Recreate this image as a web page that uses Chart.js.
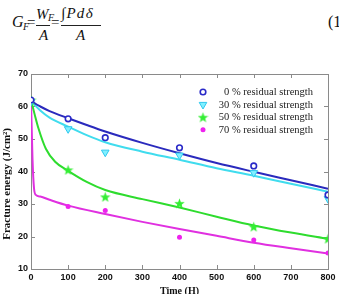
<!DOCTYPE html>
<html>
<head>
<meta charset="utf-8">
<script src="https://cdn.jsdelivr.net/npm/chart.js@4"></script>
<style>
  html, body { margin: 0; padding: 0; background: #fff; overflow: hidden; }
  body { width: 339px; height: 294px; position: relative; }
  .eq { position: absolute; font-family: 'Liberation Serif', 'DejaVu Serif', serif; font-style: italic; line-height: 1; color: #111; white-space: nowrap; }
  .bar { position: absolute; height: 1px; background: #222; }
  #wrap { position: absolute; left: 0; top: 55px; width: 339px; height: 245px; }
</style>
</head>
<body>
<!-- equation (1) above the figure -->
<span class="eq" style="left:12px; top:14px; font-size:16px;">G</span>
<span class="eq" style="left:23px; top:22px; font-size:10px;">F</span>
<span class="eq" style="left:27px; top:15px; font-size:15px; font-style:normal;">=</span>
<span class="eq" style="left:36px; top:7px; font-size:15px;">W</span>
<span class="eq" style="left:48px; top:13px; font-size:10px;">F</span>
<div class="bar" style="left:36px; top:25px; width:14px;"></div>
<span class="eq" style="left:39px; top:28px; font-size:15px;">A</span>
<span class="eq" style="left:51px; top:15px; font-size:15px; font-style:normal;">=</span>
<span class="eq" style="left:61px; top:6px; font-size:15px; letter-spacing:1.3px;">&#8747;Pd&#948;</span>
<div class="bar" style="left:61px; top:25px; width:40px;"></div>
<span class="eq" style="left:76px; top:28px; font-size:15px;">A</span>
<span class="eq" style="left:328px; top:14px; font-size:16px; font-style:normal;">(1</span>

<div id="wrap"><canvas id="chart"></canvas></div>

<script>
// measured points (Time in hours)
const times = [0, 100, 200, 400, 600, 800];
const res0 = [62, 56.2, 50.4, 47.3, 41.7, 32.8];
const res30 = [61.5, 53.1, 45.9, 45.0, 39.6, 31.6];
const res50 = [62, 40.5, 32.2, 30.2, 23.0, 19.3];
const res70 = [62, 29.2, 28.0, 19.8, 18.9, 14.9];

// fitted curves
const fitTimes0 = [0, 10, 25, 50, 100, 150, 200, 300, 400, 500, 600, 700, 800];
const fit0 = [62, 61.0, 60.0, 58.6, 56.4, 54.3, 52.3, 48.8, 45.6, 42.6, 39.9, 37.3, 34.7];
const fitTimes30 = [0, 10, 25, 50, 100, 150, 200, 300, 400, 500, 600, 700, 800];
const fit30 = [62, 60.5, 58.8, 56.6, 53.8, 51.2, 49.0, 46.1, 43.6, 41.0, 38.7, 36.2, 33.8];
const fitTimes50 = [0, 10, 20, 40, 65, 100, 150, 200, 300, 400, 500, 600, 700, 800];
const fit50 = [62, 57.5, 53.3, 47.0, 43.0, 40.2, 36.8, 34.3, 31.5, 28.9, 26.1, 23.4, 21.2, 19.3];
const fitTimes70 = [0, 4, 8, 13, 25, 50, 100, 200, 300, 400, 500, 600, 700, 800];
const fit70 = [62, 44, 35, 32.8, 32.3, 31.3, 29.5, 26.9, 24.5, 22.3, 20.2, 18.1, 16.4, 14.8];

const seriesLabels = ['0 % residual strength', '30 % residual strength', '50 % residual strength', '70 % residual strength'];
const lineColors = ['#2a2abd', '#40dcee', '#2edc2e', '#e030e0'];
const xTicks = [0, 100, 200, 300, 400, 500, 600, 700, 800];
const yTicks = [10, 20, 30, 40, 50, 60, 70];

const pts = (xs, ys) => xs.map((x, i) => ({ x: x, y: ys[i] }));

// filled five-point star for the 50 % series
function makeStar(size, color) {
    const c = document.createElement('canvas');
    c.width = size; c.height = size;
    const g = c.getContext('2d');
    const cx = size / 2, cy = size / 2 + 0.5, ro = size / 2, ri = ro * 0.42;
    g.beginPath();
    for (let i = 0; i < 10; i++) {
        const r = i % 2 ? ri : ro;
        const a = -Math.PI / 2 + i * Math.PI / 5;
        g.lineTo(cx + r * Math.cos(a), cy + r * Math.sin(a));
    }
    g.closePath();
    g.fillStyle = color;
    g.fill();
    return c;
}
const starImg = makeStar(11, '#33ee33');

const markerStyles = [
    { pointStyle: 'circle', radius: 2.8, bg: '#ffffff', border: '#2a2ac8', bw: 1.6, rot: 0 },
    { pointStyle: 'triangle', radius: 4.4, bg: '#80f0ff', border: '#30c8ee', bw: 1, rot: 180 },
    { pointStyle: starImg, radius: 5, bg: '#33ee33', border: '#33ee33', bw: 0, rot: 0 },
    { pointStyle: 'circle', radius: 2.5, bg: '#ee22ee', border: '#ee22ee', bw: 0, rot: 0 }
];

const fitSets = [[fitTimes0, fit0], [fitTimes30, fit30], [fitTimes50, fit50], [fitTimes70, fit70]];
const measured = [res0, res30, res50, res70];

const datasets = [];
fitSets.forEach((f, i) => {
    datasets.push({
        type: 'line',
        data: pts(f[0], f[1]),
        borderColor: lineColors[i],
        borderWidth: 2,
        pointRadius: 0,
        cubicInterpolationMode: 'monotone',
        fill: false,
        order: 2
    });
});
measured.forEach((vals, i) => {
    const m = markerStyles[i];
    datasets.push({
        type: 'scatter',
        data: pts(times, vals),
        pointStyle: m.pointStyle,
        pointRadius: m.radius,
        pointRotation: m.rot,
        pointBackgroundColor: m.bg,
        pointBorderColor: m.border,
        pointBorderWidth: m.bw,
        order: 1
    });
});

// matlab-like box with inward ticks
const boxPlugin = {
    id: 'box',
    beforeDatasetsDraw(chart) {
        const { ctx, chartArea: a, scales } = chart;
        ctx.save();
        ctx.strokeStyle = '#8a8a8a';
        ctx.lineWidth = 1;
        ctx.strokeRect(a.left + 0.5, a.top + 0.5, a.right - a.left, a.bottom - a.top);
        ctx.beginPath();
        xTicks.forEach(v => {
            const x = Math.round(scales.x.getPixelForValue(v)) + 0.5;
            ctx.moveTo(x, a.bottom); ctx.lineTo(x, a.bottom - 4);
            ctx.moveTo(x, a.top); ctx.lineTo(x, a.top + 4);
        });
        yTicks.forEach(v => {
            const y = Math.round(scales.y.getPixelForValue(v)) + 0.5;
            ctx.moveTo(a.left, y); ctx.lineTo(a.left + 4, y);
            ctx.moveTo(a.right, y); ctx.lineTo(a.right - 4, y);
        });
        ctx.stroke();
        ctx.restore();
    }
};

// legend inside the axes, upper right
const legendPlugin = {
    id: 'innerLegend',
    afterDatasetsDraw(chart) {
        const ctx = chart.ctx;
        const top = 92 - 55, step = 12.6, mx = 203, tx = 313;
        ctx.save();
        seriesLabels.forEach((lab, i) => {
            const y = top + i * step;
            const m = markerStyles[i];
            ctx.fillStyle = m.bg;
            ctx.strokeStyle = m.border;
            ctx.lineWidth = m.bw;
            Chart.helpers.drawPoint(ctx, {
                pointStyle: m.pointStyle, radius: m.radius, rotation: m.rot, borderWidth: m.bw
            }, mx, y);
            ctx.font = '10.5px "Liberation Serif", serif';
            ctx.textAlign = 'right';
            ctx.textBaseline = 'middle';
            ctx.fillStyle = '#222';
            ctx.fillText(lab, tx, y + 0.5);
        });
        ctx.restore();
    }
};

const tickFont = { family: '"Liberation Sans Narrow", "Liberation Sans", Arial, sans-serif', size: 9, weight: 'bold' };

new Chart(document.getElementById('chart'), {
    data: { datasets: datasets },
    plugins: [boxPlugin, legendPlugin],
    options: {
        responsive: true,
        maintainAspectRatio: false,
        animation: false,
        layout: { padding: { top: 19, right: 11, left: 0, bottom: 0 } },
        plugins: { legend: { display: false }, tooltip: { enabled: false } },
        scales: {
            x: {
                type: 'linear',
                min: 0, max: 800,
                afterFit: s => { s.height = 31; },
                afterBuildTicks: s => { s.ticks = xTicks.map(v => ({ value: v })); },
                grid: { display: false, drawTicks: false },
                border: { display: false },
                ticks: { padding: 3, color: '#111', font: tickFont },
                title: {
                    display: true,
                    text: 'Time (H)',
                    color: '#111',
                    padding: { top: 0, bottom: 3 },
                    font: { family: 'Liberation Serif, serif', size: 10, weight: 'bold', lineHeight: 1.2 }
                }
            },
            y: {
                min: 10, max: 70,
                afterFit: s => { s.width = 31; },
                afterBuildTicks: s => { s.ticks = yTicks.map(v => ({ value: v })); },
                grid: { display: false, drawTicks: false },
                border: { display: false },
                ticks: { padding: 3, color: '#111', font: tickFont },
                title: {
                    display: true,
                    text: 'Fracture energy (J/cm\u00b2)\u00a0\u00a0\u00a0\u00a0\u00a0\u00a0\u00a0\u00a0\u00a0',
                    color: '#111',
                    padding: { top: 1, bottom: 0 },
                    font: { family: 'Liberation Serif, serif', size: 11, weight: 'bold', lineHeight: 1.1 }
                }
            }
        }
    }
});
</script>
</body>
</html>
